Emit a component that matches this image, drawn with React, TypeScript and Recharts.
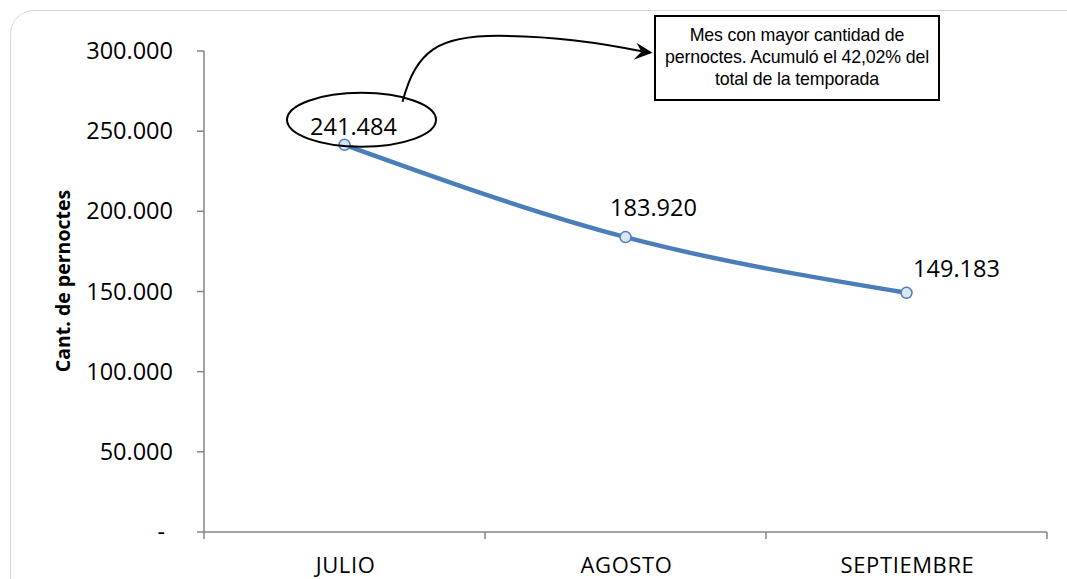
import React from 'react';
import { LineChart, Line, XAxis, YAxis, LabelList } from 'recharts';

const months = ['JULIO', 'AGOSTO', 'SEPTIEMBRE'];
const pernoctes = [241484, 183920, 149183];
const yTicks = [0, 50000, 100000, 150000, 200000, 250000, 300000];
const yTitle = 'Cant. de pernoctes';
const noteLines = [
  'Mes con mayor cantidad de',
  'pernoctes. Acumuló el 42,02% del',
  'total de la temporada',
];

const data = months.map((mes, i) => ({ mes, pernoctes: pernoctes[i] }));

const W = 1067;
const H = 579;
const PLOT_LEFT = 204;
const PLOT_RIGHT = 1047;
const PLOT_TOP = 51;
const PLOT_BOTTOM = 532;
const BAND = (PLOT_RIGHT - PLOT_LEFT) / months.length;
const AXIS = '#868686';
const BLUE = '#4A7EBB';
const FONT = '"Open Sans", sans-serif';

const fmt = (v: number) =>
  v === 0 ? '-' : String(v).replace(/\B(?=(\d{3})+(?!\d))/g, '.');

// label offsets from each point (as placed in the original)
const labelShift = [
  { dx: 9, dy: -18 },
  { dx: 28, dy: -29 },
  { dx: 50, dy: -24 },
];

function XTick(props: any) {
  const { x, payload, index } = props;
  const left = x - BAND / 2;
  return (
    <g>
      <line x1={left} x2={left} y1={PLOT_BOTTOM} y2={PLOT_BOTTOM + 7} stroke={AXIS} strokeWidth={1.5} />
      {index === months.length - 1 && (
        <line x1={x + BAND / 2} x2={x + BAND / 2} y1={PLOT_BOTTOM} y2={PLOT_BOTTOM + 7} stroke={AXIS} strokeWidth={1.5} />
      )}
      <text
        x={x + 1}
        y={PLOT_BOTTOM + 41}
        textAnchor="middle"
        fontFamily={FONT}
        fontSize={22}
        letterSpacing={0.6}
        fill="#000"
      >
        {payload.value}
      </text>
    </g>
  );
}

function YTick(props: any) {
  const { y, payload } = props;
  const zero = payload.value === 0;
  return (
    <text
      x={PLOT_LEFT - 31 - (zero ? 8 : 0)}
      y={y + 8}
      textAnchor="end"
      fontFamily={FONT}
      fontSize={23.5}
      fill="#000"
    >
      {fmt(payload.value)}
    </text>
  );
}

function PointLabel(props: any) {
  const { x, y, value, index } = props;
  const s = labelShift[index] || { dx: 0, dy: -20 };
  return (
    <g>
      {index === 0 && (
        <g>
          <ellipse cx={x + 17} cy={y - 25} rx={74.5} ry={27} fill="none" stroke="#000" strokeWidth={2} />
          <path
            d={`M${x + 58},${y - 43} C${x + 72},${y - 95} ${x + 94},${y - 109} ${x + 154},${y - 109} C${x + 214},${y - 109} ${x + 262},${y - 101} ${x + 300},${y - 93}`}
            fill="none"
            stroke="#000"
            strokeWidth={2}
          />
          <path
            d={`M${x + 308},${y - 92} L${x + 292},${y - 102} L${x + 297},${y - 93} L${x + 289},${y - 85} Z`}
            fill="#000"
          />
        </g>
      )}
      <text
        x={x + s.dx}
        y={y + s.dy + 8}
        textAnchor="middle"
        fontFamily={FONT}
        fontSize={23.5}
        fill="#000"
      >
        {fmt(value)}
      </text>
    </g>
  );
}

function YTitle() {
  return (
    <text
      x={62}
      y={281}
      transform="rotate(-90 62 281)"
      textAnchor="middle"
      dominantBaseline="central"
      fontFamily={FONT}
      fontWeight={700}
      fontSize={19.5}
      fill="#000"
    >
      {yTitle}
    </text>
  );
}

export default function App() {
  return (
    <div
      style={{
        position: 'absolute',
        left: 0,
        top: 0,
        width: W,
        height: H,
        overflow: 'hidden',
        background: '#fff',
      }}
    >
      <div
        style={{
          position: 'absolute',
          left: 10,
          top: 10,
          width: 1100,
          height: 620,
          border: '1.5px solid #d9d9d9',
          borderRadius: 24,
        }}
      />
      <LineChart
        width={W}
        height={H}
        data={data}
        margin={{ top: PLOT_TOP, right: W - PLOT_RIGHT, bottom: 0, left: 0 }}
        style={{ position: 'absolute', left: 0, top: 0 }}
      >
        <XAxis
          dataKey="mes"
          scale="band"
          height={H - PLOT_BOTTOM}
          axisLine={{ stroke: AXIS, strokeWidth: 1.5 }}
          tickLine={false}
          tick={<XTick />}
          interval={0}
        />
        <YAxis
          width={PLOT_LEFT}
          domain={[0, 300000]}
          ticks={yTicks}
          interval={0}
          axisLine={{ stroke: AXIS, strokeWidth: 1.5 }}
          tickLine={{ stroke: AXIS, strokeWidth: 1.5 }}
          tickSize={7}
          tick={<YTick />}
          label={<YTitle />}
        />
        <Line
          dataKey="pernoctes"
          type="monotone"
          stroke={BLUE}
          strokeWidth={4.5}
          dot={{ r: 5.5, fill: '#DCE6F2', stroke: BLUE, strokeWidth: 1.5 }}
          activeDot={false}
          isAnimationActive={false}
        >
          <LabelList dataKey="pernoctes" content={<PointLabel />} />
        </Line>
      </LineChart>
      <div
        style={{
          position: 'absolute',
          left: 654,
          top: 15,
          width: 286,
          height: 86,
          boxSizing: 'border-box',
          border: '2px solid #000',
          background: '#fff',
          fontFamily: '"Liberation Sans", Arial, sans-serif',
          fontSize: 17.8,
          letterSpacing: -0.15,
          lineHeight: '22px',
          textAlign: 'center',
          paddingTop: 7,
          whiteSpace: 'nowrap',
        }}
      >
        {noteLines.map((l) => (
          <div key={l}>{l}</div>
        ))}
      </div>
    </div>
  );
}
